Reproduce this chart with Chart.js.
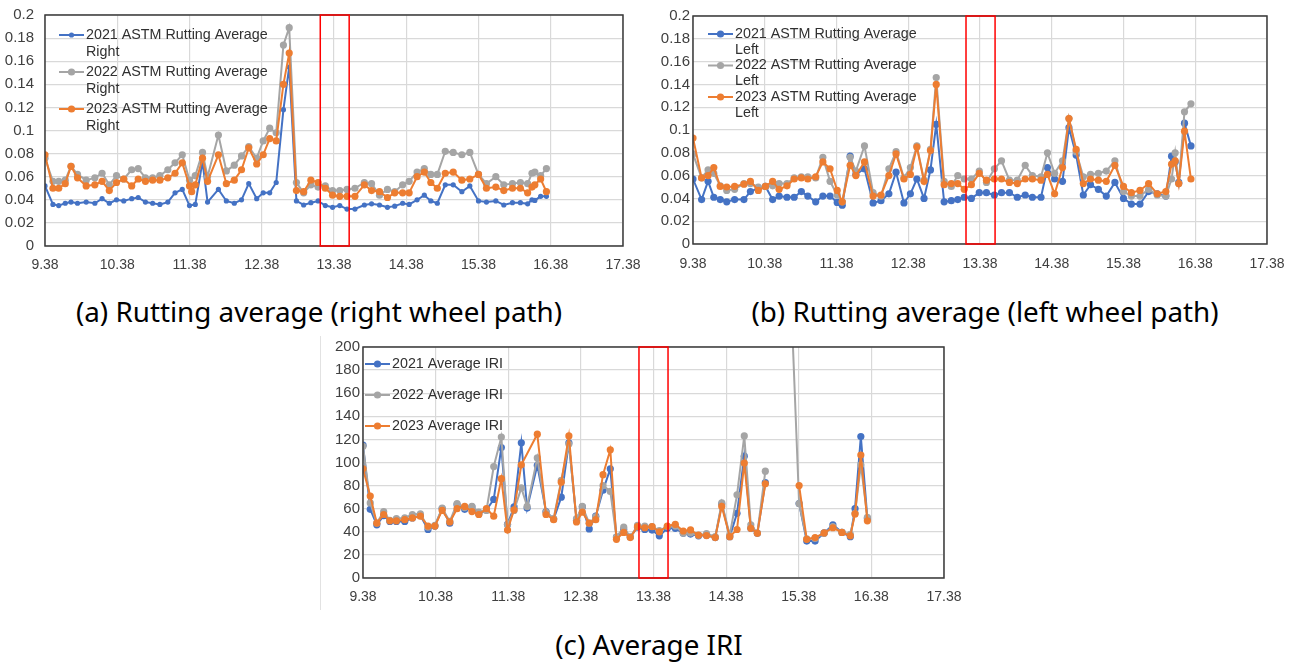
<!DOCTYPE html>
<html>
<head>
<meta charset="utf-8">
<script src="https://cdn.jsdelivr.net/npm/chart.js@4.4.1/dist/chart.umd.min.js"></script>
<style>
  body { margin: 0; background: #fff; width: 1296px; height: 662px; position: relative; overflow: hidden; }
  canvas { position: absolute; }
  .caption { position: absolute; font-family: "Noto Sans", sans-serif; font-size: 27.8px; line-height: 34px;
             color: #000; white-space: nowrap; transform: translateX(-50%); }
  .edge { position: absolute; left: 320px; top: 336px; width: 1px; height: 274px; background: #e2e2e2; }
</style>
</head>
<body>
<canvas id="rightChart" width="641" height="276" style="left:0;top:0"></canvas>
<canvas id="leftChart" width="656" height="274" style="left:640px;top:0"></canvas>
<div class="edge"></div>
<canvas id="iriChart" width="662" height="278" style="left:300px;top:330px"></canvas>
<div class="caption" style="left:319px;top:294px">(a) Rutting average (right wheel path)</div>
<div class="caption" style="left:985px;top:294px">(b) Rutting average (left wheel path)</div>
<div class="caption" style="left:649px;top:627px">(c) Average IRI</div>
<script>
// distance ticks shared by all three panels
const distTicks = [9.38, 10.38, 11.38, 12.38, 13.38, 14.38, 15.38, 16.38, 17.38];

// (a) right wheel path
const rightDist = [9.38, 9.49, 9.57, 9.66, 9.74, 9.83, 9.95, 10.07, 10.17, 10.27, 10.37, 10.47, 10.58, 10.67, 10.77,
  10.87, 10.97, 11.08, 11.18, 11.28, 11.38, 11.41, 11.46, 11.56, 11.63, 11.78, 11.89, 12.0, 12.1, 12.2, 12.31, 12.4,
  12.49, 12.58, 12.68, 12.76, 12.86, 12.96, 13.06, 13.16, 13.26, 13.36, 13.46, 13.56, 13.67, 13.8, 13.9, 14.01, 14.12,
  14.22, 14.33, 14.42, 14.53, 14.63, 14.72, 14.81, 14.92, 15.03, 15.15, 15.26, 15.38, 15.49, 15.62, 15.73, 15.85,
  15.96, 16.06, 16.12, 16.16, 16.24, 16.32];
const right2021 = [0.052, 0.036, 0.035, 0.037, 0.038, 0.037, 0.038, 0.037, 0.041, 0.037, 0.040, 0.039, 0.041, 0.042,
  0.038, 0.037, 0.036, 0.038, 0.046, 0.049, 0.035, null, 0.036, 0.073, 0.038, 0.049, 0.039, 0.037, 0.040, 0.054, 0.041,
  0.046, 0.046, 0.055, 0.118, 0.155, 0.039, 0.0355, 0.0375, 0.039, 0.035, 0.0335, 0.035, 0.032, 0.032, 0.0355, 0.0365,
  0.0355, 0.0335, 0.0345, 0.037, 0.036, 0.040, 0.044, 0.039, 0.037, 0.053, 0.053, 0.047, 0.052, 0.039, 0.038, 0.039,
  0.0355, 0.0375, 0.0375, 0.0365, 0.040, 0.0395, 0.043, 0.043];
const right2022 = [0.076, 0.056, 0.056, 0.057, 0.069, 0.062, 0.057, 0.059, 0.063, 0.053, 0.061, 0.058, 0.066, 0.067,
  0.059, 0.059, 0.061, 0.066, 0.072, 0.079, 0.057, null, 0.061, 0.081, 0.060, 0.096, 0.065, 0.070, 0.078, 0.086, 0.076,
  0.091, 0.102, 0.098, 0.174, 0.189, 0.055, 0.046, 0.053, 0.051, 0.052, 0.048, 0.048, 0.049, 0.050, 0.055, 0.054,
  0.044, 0.049, 0.047, 0.053, 0.056, 0.064, 0.067, 0.062, 0.062, 0.082, 0.081, 0.079, 0.081, 0.062, 0.054, 0.060,
  0.053, 0.054, 0.055, 0.054, 0.063, 0.064, 0.061, 0.067];
const right2023 = [0.079, 0.050, 0.050, 0.054, 0.069, 0.059, 0.052, 0.053, 0.056, 0.048, 0.055, 0.058, 0.052, 0.058,
  0.056, 0.057, 0.057, 0.059, 0.063, 0.072, 0.052, 0.047, 0.053, 0.076, 0.056, 0.079, 0.054, 0.057, 0.066, 0.085, 0.071,
  0.079, 0.093, 0.091, 0.140, 0.167, 0.048, 0.047, 0.057, 0.055, 0.050, 0.044, 0.043, 0.043, 0.043, 0.053, 0.048,
  0.047, 0.042, 0.046, 0.046, 0.046, 0.060, 0.064, 0.055, 0.050, 0.063, 0.064, 0.057, 0.058, 0.062, 0.050, 0.051,
  0.048, 0.050, 0.050, 0.046, 0.051, 0.053, 0.058, 0.047];

// (b) left wheel path
const leftDist = [9.38, 9.5, 9.59, 9.67, 9.76, 9.85, 9.96, 10.09, 10.18, 10.29, 10.39, 10.49, 10.58, 10.69, 10.79,
  10.89, 10.98, 11.09, 11.19, 11.29, 11.39, 11.46, 11.57, 11.65, 11.77, 11.89, 12.0, 12.11, 12.21, 12.32, 12.41, 12.5,
  12.6, 12.69, 12.77, 12.88, 12.98, 13.07, 13.16, 13.26, 13.37, 13.47, 13.58, 13.68, 13.79, 13.9, 14.01, 14.11, 14.23,
  14.32, 14.42, 14.53, 14.62, 14.72, 14.82, 14.92, 15.03, 15.14, 15.26, 15.38, 15.49, 15.61, 15.73, 15.85, 15.97,
  16.05, 16.1, 16.15, 16.23, 16.32];
const left2021 = [0.057, 0.039, 0.055, 0.041, 0.039, 0.037, 0.039, 0.039, 0.046, 0.049, 0.0505, 0.039, 0.042, 0.041,
  0.041, 0.046, 0.042, 0.037, 0.042, 0.042, 0.0365, 0.034, 0.077, 0.061, 0.066, 0.036, 0.038, 0.044, 0.063, 0.036,
  0.044, 0.057, 0.040, 0.065, 0.105, 0.037, 0.038, 0.039, 0.041, 0.040, 0.045, 0.045, 0.043, 0.045, 0.045, 0.041,
  0.043, 0.041, 0.041, 0.067, 0.057, 0.055, 0.102, 0.078, 0.043, 0.052, 0.048, 0.042, 0.054, 0.040, 0.035, 0.035,
  0.046, 0.044, 0.042, 0.077, 0.072, 0.054, 0.106, 0.086];
const left2022 = [0.079, 0.058, 0.065, 0.062, 0.051, 0.047, 0.048, 0.053, 0.053, 0.050, 0.0505, 0.051, 0.053, 0.053,
  0.058, 0.059, 0.059, 0.058, 0.076, 0.055, 0.043, 0.037, 0.076, 0.064, 0.086, 0.045, 0.042, 0.066, 0.081, 0.058,
  0.067, 0.086, 0.056, 0.083, 0.146, 0.055, 0.0505, 0.060, 0.057, 0.057, 0.064, 0.054, 0.066, 0.073, 0.056, 0.056,
  0.069, 0.060, 0.059, 0.080, 0.062, 0.073, 0.110, 0.081, 0.059, 0.061, 0.062, 0.064, 0.073, 0.046, 0.042, 0.042,
  0.048, 0.043, 0.042, 0.057, 0.080, 0.053, 0.116, 0.123];
const left2023 = [0.093, 0.058, 0.060, 0.067, 0.0505, 0.050, 0.0505, 0.0525, 0.055, 0.047, 0.0505, 0.055, 0.048, 0.051,
  0.057, 0.058, 0.057, 0.059, 0.072, 0.066, 0.047, 0.037, 0.069, 0.060, 0.072, 0.042, 0.043, 0.060, 0.079, 0.057,
  0.061, 0.085, 0.055, 0.082, 0.140, 0.052, 0.053, 0.053, 0.048, 0.052, 0.062, 0.056, 0.057, 0.057, 0.054, 0.053,
  0.057, 0.057, 0.056, 0.061, 0.044, 0.067, 0.110, 0.083, 0.053, 0.057, 0.056, 0.055, 0.069, 0.0505, 0.045, 0.047,
  0.053, 0.044, 0.046, 0.070, 0.073, 0.053, 0.099, 0.057];

// (c) average IRI
const iriDist = [9.38, 9.48, 9.57, 9.665, 9.75, 9.84, 9.955, 10.06, 10.17, 10.275, 10.37, 10.47, 10.575, 10.675, 10.78,
  10.88, 10.975, 11.08, 11.18, 11.285, 11.37, 11.46, 11.56, 11.64, 11.78, 11.9, 12.005, 12.11, 12.215, 12.32, 12.4,
  12.495, 12.585, 12.685, 12.785, 12.87, 12.97, 13.06, 13.16, 13.26, 13.36, 13.46, 13.57, 13.68, 13.79, 13.89, 14.0,
  14.11, 14.23, 14.32, 14.43, 14.53, 14.63, 14.72, 14.81, 14.92, 15.26, 15.385, 15.49, 15.605, 15.73, 15.85, 15.975,
  16.09, 16.155, 16.235, 16.325];
const iri2021 = [115, 59.5, 46, 54, 49, 49, 49, 52, 54, 42, 45, 60, 47.5, 63.5, 59.5, 61.5, 55.5, 59, 68, 113, 46.5,
  61.5, 117, 60.5, 97.5, 57.5, 51, 70, 117, 50, 61.5, 42.5, 53.5, 76, 94.5, 35.5, 42, 35.5, 44, 42, 41.5, 36.5, 43, 43,
  38.7, 38, 36.5, 37, 35, 64, 35.8, 56, 105.5, 43, 38.7, 82.5, null, 64.5, 32, 32, 39, 46, 39.5, 35.8, 60, 122.5, 51.5];
const iri2022 = [114, 65, 47.5, 57.5, 50, 51.5, 52, 55, 55.5, 44, 45.5, 60.5, 49, 64.5, 61, 62, 57, 58.5, 96.5, 122, 46,
  58.5, 78, 62, 104, 57, 51.5, 84.5, 116, 51.5, 62, 47.5, 53, 80, 75, 35.5, 44, 35.5, 45.5, 45, 44.5, 41, 44.5, 45,
  38.7, 39, 37, 38.5, 35.8, 65, 37, 72, 123, 46, 39, 92.5, 265, 64.5, 33.8, 34.3, 38.7, 44.5, 39.5, 37.8, 56, 98, 52.5];
const iri2023 = [94.5, 71, 47.5, 55, 49.5, 49.5, 50.5, 52, 53.5, 45, 45, 58.5, 48.5, 60, 62, 57.5, 55, 60, 53.5, 86, 41.5,
  59, 98, null, 124.5, 55, 50.5, 83, 123, 48.5, 57, 47.5, 50.5, 89.5, 111, 33.5, 39.5, 35, 44.5, 43.5, 44.5, 40, 45,
  46.5, 40.7, 41.6, 37.2, 36.7, 35, 62, 35.8, 42, 99.5, 43, 38.7, 81.5, null, 80, 33.5, 35, 39, 43.5, 39.5, 36.5, 55.5,
  106.5, 49.5];

const BLUE = '#4472C4', GRAY = '#A5A5A5', ORANGE = '#ED7D31';
const X_FONT = { family: '"Liberation Sans", Arial, sans-serif', size: 14 };
const Y_FONT = { family: '"Liberation Sans", Arial, sans-serif', size: 15 };

const zip = (xs, ys) => xs.map((x, i) => ({ x: x, y: ys[i] })).filter(p => p.y !== null);

function series(label, xs, ys, color, radius, order) {
  return {
    label: label, data: zip(xs, ys), borderColor: color, backgroundColor: color,
    borderWidth: 2, pointRadius: radius, pointBorderWidth: 0, pointBackgroundColor: color,
    pointHoverRadius: radius, order: order
  };
}

// plot frame, red highlight band and the in-plot legend
const frame = {
  id: 'frame',
  afterDatasetsDraw(chart, args, opts) {
    const ctx = chart.ctx, a = chart.chartArea, x = chart.scales.x;
    ctx.save();
    const lg = opts.legend;
    chart.data.datasets.forEach((ds, i) => {
      const y = lg.y + i * lg.dy;
      ctx.strokeStyle = ds.borderColor; ctx.lineWidth = 2;
      ctx.beginPath(); ctx.moveTo(lg.x, y); ctx.lineTo(lg.x + 25, y); ctx.stroke();
      ctx.fillStyle = ds.borderColor;
      ctx.beginPath(); ctx.arc(lg.x + 12.5, y, ds.pointRadius, 0, Math.PI * 2); ctx.fill();
      ctx.fillStyle = '#303030';
      ctx.font = lg.size + 'px "Liberation Sans", Arial, sans-serif';
      ctx.textBaseline = 'middle';
      ds.label.split('\n').forEach((line, k) => ctx.fillText(line, lg.x + 27, y + k * lg.lh));
    });
    ctx.strokeStyle = '#3a3a3a'; ctx.lineWidth = 1.5;
    ctx.strokeRect(a.left, a.top, a.right - a.left, a.bottom - a.top);
    const x0 = x.getPixelForValue(opts.band[0]), x1 = x.getPixelForValue(opts.band[1]);
    ctx.strokeStyle = '#ff0000'; ctx.lineWidth = 1.5;
    ctx.strokeRect(x0, a.top, x1 - x0, a.bottom - a.top);
    ctx.restore();
  }
};

function makeChart(id, datasets, yMax, yStep, geom) {
  return new Chart(document.getElementById(id), {
    type: 'line',
    data: { datasets: datasets },
    plugins: [frame],
    options: {
      responsive: false, animation: false, spanGaps: geom.span,
      layout: { padding: { left: 0, top: geom.top, right: geom.right, bottom: 0 } },
      plugins: { legend: { display: false }, tooltip: { enabled: false }, frame: { band: geom.band, legend: geom.legend } },
      scales: {
        x: {
          type: 'linear', min: 9.38, max: 17.38,
          afterBuildTicks: s => { s.ticks = distTicks.map(v => ({ value: v })); },
          afterFit: s => { s.height = 30; },
          border: { display: false },
          grid: { color: '#d9d9d9', lineWidth: 1.2, drawTicks: true, tickLength: geom.xGap, tickColor: 'rgba(0,0,0,0)' },
          ticks: { padding: 0, autoSkip: false, maxRotation: 0, color: '#404040', font: X_FONT, callback: v => v.toFixed(2) }
        },
        y: {
          min: 0, max: yMax,
          afterFit: s => { s.width = geom.yWidth; },
          border: { display: false },
          grid: { color: '#d9d9d9', lineWidth: 1.2, drawTicks: true, tickLength: geom.gap, tickColor: 'rgba(0,0,0,0)' },
          ticks: { stepSize: yStep, padding: 0, color: '#404040', font: Y_FONT, callback: v => String(Number(v.toFixed(2))) }
        }
      }
    }
  });
}

makeChart('rightChart', [
  series('2021 ASTM Rutting Average\nRight', rightDist, right2021, BLUE, 2.6, 3),
  series('2022 ASTM Rutting Average\nRight', rightDist, right2022, GRAY, 3.6, 2),
  series('2023 ASTM Rutting Average\nRight', rightDist, right2023, ORANGE, 3.6, 1)
], 0.2, 0.02, { top: 15, right: 18, yWidth: 45, gap: 11, xGap: 11, span: false, band: [13.19, 13.59],
  legend: { x: 59, y: 35, dy: 37, lh: 17, size: 14.3 } });

makeChart('leftChart', [
  series('2021 ASTM Rutting Average\nLeft', leftDist, left2021, BLUE, 3.6, 3),
  series('2022 ASTM Rutting Average\nLeft', leftDist, left2022, GRAY, 3.6, 2),
  series('2023 ASTM Rutting Average\nLeft', leftDist, left2023, ORANGE, 3.6, 1)
], 0.2, 0.02, { top: 16, right: 29, yWidth: 53, gap: 3, xGap: 12, span: false, band: [13.185, 13.59],
  legend: { x: 68, y: 34, dy: 31.5, lh: 16, size: 14.3 } });

makeChart('iriChart', [
  series('2021 Average IRI', iriDist, iri2021, BLUE, 3.6, 3),
  series('2022 Average IRI', iriDist, iri2022, GRAY, 3.6, 2),
  series('2023 Average IRI', iriDist, iri2023, ORANGE, 3.6, 1)
], 200, 20, { top: 17, right: 18, yWidth: 63, gap: 3, xGap: 11, span: 0.3, band: [13.18, 13.58],
  legend: { x: 65, y: 34, dy: 31, lh: 16, size: 14.3 } });
</script>
</body>
</html>
